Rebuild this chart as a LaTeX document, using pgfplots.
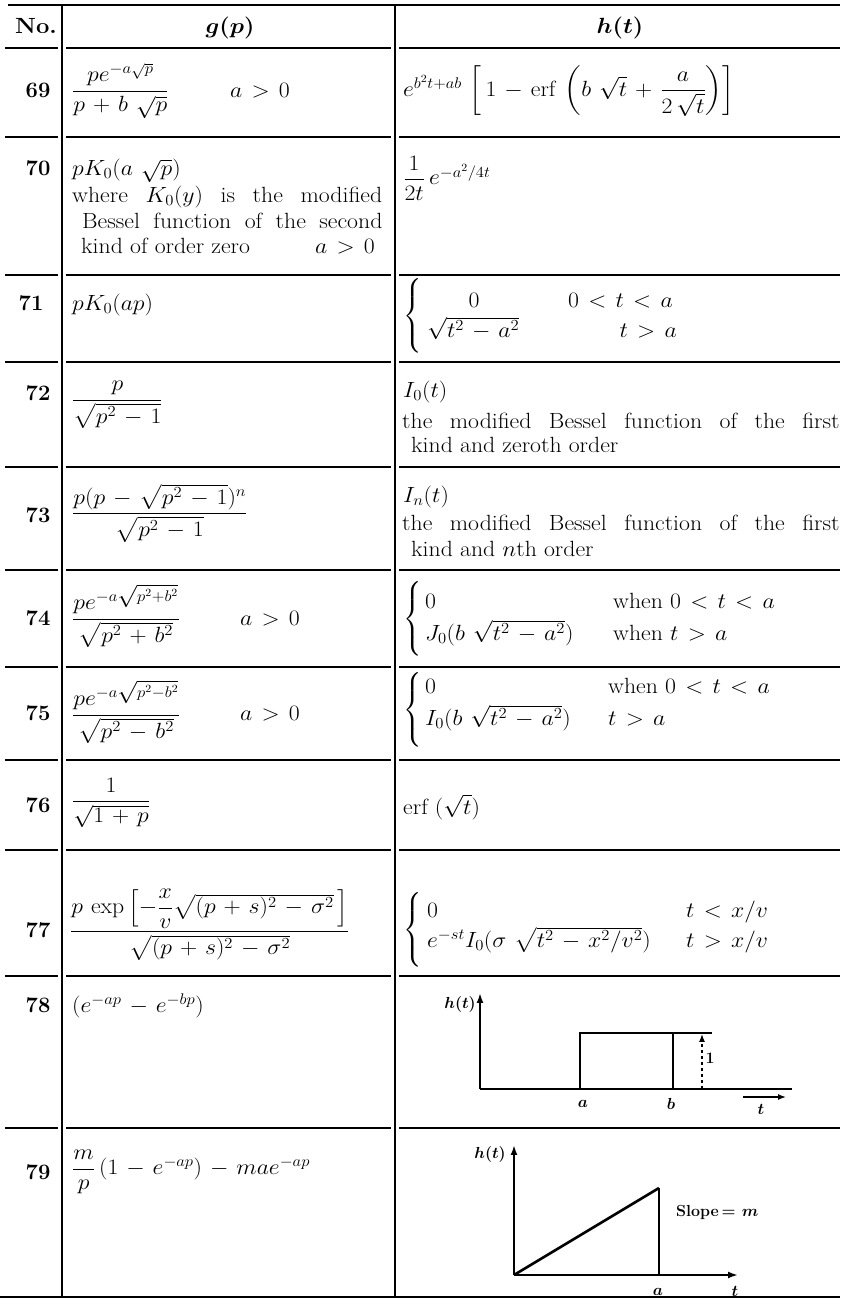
\RequirePackage{fix-cm}
\documentclass[border=0pt]{standalone}
\usepackage{amsmath,bm}
\usepackage{graphicx}
\usepackage{pgfplots}
\pgfplotsset{compat=1.18}
\usetikzlibrary{arrows.meta}
\newcommand{\W}[1]{\scalebox{1.08}[1]{#1}}
\newcommand{\Br}{$\left\{\vrule height 29pt depth 29pt width 0pt\right.$}
\medmuskip=6mu plus 2mu minus 3mu
\thickmuskip=7mu plus 3mu minus 2mu
\begin{document}
\begin{tikzpicture}
\useasboundingbox (0,0) rectangle (847pt,1299pt);
\tikzset{T/.style={inner sep=0pt, font=\fontsize{22}{26}\selectfont},
  L/.style={inner sep=0pt, font=\fontsize{16}{19}\selectfont}}
\begin{axis}[at={(0pt,0pt)}, anchor=south west, scale only axis,
  width=847pt, height=1299pt, xmin=0, xmax=847, ymin=0, ymax=1299,
  y dir=reverse, hide axis, clip=false]
% top rule
\addplot[black, line width=2.6pt] coordinates {(8,5) (840,5)};
% vertical rules
\addplot[black, line width=1.3pt] coordinates {(62,5) (62,1297)};
\addplot[black, line width=1.3pt] coordinates {(395,5) (395,1297)};
% horizontal rules
\pgfplotsinvokeforeach{48,137,275,362,467,570,667,760,850,976,1128}{
  \addplot[black, line width=1.6pt] coordinates {(5,#1) (58,#1)};
  \addplot[black, line width=1.6pt] coordinates {(66,#1) (391,#1)};
  \addplot[black, line width=1.6pt] coordinates {(399,#1) (840,#1)};
}
\addplot[black, line width=1.6pt] coordinates {(0,1297) (840,1297)};
% header
\node[T, anchor=base] at (axis cs:36,33) {\W{\bfseries No.}};
\node[T, anchor=base] at (axis cs:230,33) {\W{$\bm{g(p)}$}};
\node[T, anchor=base] at (axis cs:620,33) {\W{$\bm{h(t)}$}};
% row numbers
\node[T, anchor=base] at (axis cs:38,97) {\bfseries 69};
\node[T, anchor=base] at (axis cs:38,175) {\bfseries 70};
\node[T, anchor=base] at (axis cs:31,310) {\bfseries 71};
\node[T, anchor=base] at (axis cs:38,400) {\bfseries 72};
\node[T, anchor=base] at (axis cs:38,522) {\bfseries 73};
\node[T, anchor=base] at (axis cs:38,625) {\bfseries 74};
\node[T, anchor=base] at (axis cs:38,720) {\bfseries 75};
\node[T, anchor=base] at (axis cs:38,812) {\bfseries 76};
\node[T, anchor=base] at (axis cs:38,937) {\bfseries 77};
\node[T, anchor=base] at (axis cs:38,1012) {\bfseries 78};
\node[T, anchor=base] at (axis cs:38,1179) {\bfseries 79};
% row 69
\node[T, anchor=west] at (axis cs:72,91) {\W{$\dfrac{pe^{-a\sqrt{p}}}{p+b\:\sqrt{p}}$}};
\node[T, anchor=base west] at (axis cs:230,97) {\W{$a>0$}};
\node[T, anchor=west] at (axis cs:403,91) {\W{$e^{b^2t+ab}\,\left[\,1-\mathrm{erf}\,\left(b\:\sqrt{t}+\dfrac{a}{2\,\sqrt{t}}\right)\right]$}};
% row 70
\node[T, anchor=base west] at (axis cs:72,175) {\W{$pK_0(a\:\sqrt{p})$}};
\node[T, anchor=base west] at (axis cs:72,202) {\W{\makebox[287pt][s]{where $K_0(y)$ is the modified}}};
\node[T, anchor=base west] at (axis cs:82,228) {\W{\makebox[278pt][s]{Bessel function of the second}}};
\node[T, anchor=base west] at (axis cs:81,253) {\W{kind of order zero}};
\node[T, anchor=base west] at (axis cs:315,253) {\W{$a>0$}};
\node[T, anchor=west] at (axis cs:403,178) {\W{$\dfrac{1}{2t}\,e^{-a^2/4t}$}};
% row 71
\node[T, anchor=base west] at (axis cs:72,310) {\W{$pK_0(ap)$}};
\node[T] at (axis cs:413,316) {\Br};
\node[T, anchor=base] at (axis cs:474,307) {\W{$0$}};
\node[T, anchor=base west] at (axis cs:427,337) {\W{$\sqrt{t^2-a^2}$}};
\node[T, anchor=base east] at (axis cs:673,307) {\W{$0<t<a$}};
\node[T, anchor=base east] at (axis cs:677,337) {\W{$t>a$}};
% row 72
\node[T, anchor=west] at (axis cs:72,405) {\W{$\dfrac{p}{\sqrt{p^2-1}}$}};
\node[T, anchor=base west] at (axis cs:403,397) {\W{$I_0(t)$}};
\node[T, anchor=base west] at (axis cs:402,428) {\W{\makebox[405pt][s]{the modified Bessel function of the first}}};
\node[T, anchor=base west] at (axis cs:411,452) {\W{kind and zeroth order}};
% row 73
\node[T, anchor=west] at (axis cs:72,513) {\W{$\dfrac{p(p-\sqrt{p^2-1})^n}{\sqrt{p^2-1}}$}};
\node[T, anchor=base west] at (axis cs:403,502) {\W{$I_n(t)$}};
\node[T, anchor=base west] at (axis cs:402,530) {\W{\makebox[405pt][s]{the modified Bessel function of the first}}};
\node[T, anchor=base west] at (axis cs:411,556) {\W{kind and $n$th order}};
% row 74
\node[T, anchor=west] at (axis cs:72,616) {\W{$\dfrac{pe^{-a\sqrt{p^2+b^2}}}{\sqrt{p^2+b^2}}$}};
\node[T, anchor=base west] at (axis cs:240,625) {\W{$a>0$}};
\node[T] at (axis cs:413,619) {\Br};
\node[T, anchor=base west] at (axis cs:425,608) {\W{$0$}};
\node[T, anchor=base west] at (axis cs:425,640) {\W{$J_0(b\:\sqrt{t^2-a^2})$}};
\node[T, anchor=base west] at (axis cs:613,608) {\W{when $0<t<a$}};
\node[T, anchor=base west] at (axis cs:613,640) {\W{when $t>a$}};
% row 75
\node[T, anchor=west] at (axis cs:72,712) {\W{$\dfrac{pe^{-a\sqrt{p^2-b^2}}}{\sqrt{p^2-b^2}}$}};
\node[T, anchor=base west] at (axis cs:240,720) {\W{$a>0$}};
\node[T] at (axis cs:413,710) {\Br};
\node[T, anchor=base west] at (axis cs:425,693) {\W{$0$}};
\node[T, anchor=base west] at (axis cs:425,725) {\W{$I_0(b\:\sqrt{t^2-a^2})$}};
\node[T, anchor=base west] at (axis cs:608,693) {\W{when $0<t<a$}};
\node[T, anchor=base west] at (axis cs:608,725) {\W{$t>a$}};
% row 76
\node[T, anchor=west] at (axis cs:72,803) {\W{$\dfrac{1}{\sqrt{1+p}}$}};
\node[T, anchor=base west] at (axis cs:403,814) {\W{erf $(\sqrt{t})$}};
% row 77
\node[T, anchor=west] at (axis cs:70,925) {\W{$\dfrac{p\,\exp\left[-\dfrac{x}{v}\sqrt{(p+s)^2-\sigma^2}\,\right]}{\sqrt{(p+s)^2-\sigma^2}}$}};
\node[T] at (axis cs:413,930) {\Br};
\node[T, anchor=base west] at (axis cs:427,917) {\W{$0$}};
\node[T, anchor=base west] at (axis cs:427,947) {\W{$e^{-st}I_0(\sigma\:\sqrt{t^2-x^2/v^2})$}};
\node[T, anchor=base west] at (axis cs:686,917) {\W{$t<x/v$}};
\node[T, anchor=base west] at (axis cs:686,947) {\W{$t>x/v$}};
% row 78
\node[T, anchor=base west] at (axis cs:72,1012) {\W{$(e^{-ap}-e^{-bp})$}};
% row 79
\node[T, anchor=west] at (axis cs:72,1172) {\W{$\dfrac{m}{p}\,(1-e^{-ap})-mae^{-ap}$}};
\end{axis}
% chart for row 78
\begin{axis}[at={(480pt,210pt)}, anchor=south west, scale only axis,
  width=312pt, height=96pt, xmin=0, xmax=312, ymin=0, ymax=96,
  axis x line=bottom, axis y line=left,
  x axis line style={-, line width=2pt},
  y axis line style={-{Latex[length=10pt,width=7pt]}, line width=2pt},
  xtick=\empty, ytick=\empty, clip=false]
\addplot[black, line width=2.6pt] coordinates {(100,0) (100,56) (193,56) (193,0)};
\addplot[black, line width=2pt] coordinates {(193,56) (232,56)};
\addplot[black, dashed, line width=1.2pt, -{Latex[length=8pt,width=6pt]}] coordinates {(222,0) (222,55)};
\addplot[black, line width=1.4pt, -{Latex[length=8pt,width=6pt]}] coordinates {(263,-8) (306,-8)};
\node[L] at (axis cs:230,31) {$\bm{1}$};
\node[L] at (axis cs:103,-15) {$\bm{a}$};
\node[L] at (axis cs:191,-15) {$\bm{b}$};
\node[L] at (axis cs:281,-20) {$\bm{t}$};
\node[L] at (axis cs:-20,84) {$\bm{h(t)}$};
\end{axis}
% chart for row 79
\begin{axis}[at={(514pt,24pt)}, anchor=south west, scale only axis,
  width=224pt, height=130pt, xmin=0, xmax=224, ymin=0, ymax=130,
  axis x line=bottom, axis y line=left,
  x axis line style={-{Latex[length=10pt,width=7pt]}, line width=2pt},
  y axis line style={-{Latex[length=10pt,width=7pt]}, line width=2pt},
  xtick=\empty, ytick=\empty, clip=false]
\addplot[black, line width=2.6pt] coordinates {(0,0) (145,87)};
\addplot[black, line width=1.5pt] coordinates {(145,87) (145,0)};
\node[L, anchor=west] at (axis cs:162,63) {\textbf{Slope}\,$\bm{=m}$};
\node[L] at (axis cs:144,-17) {$\bm{a}$};
\node[L] at (axis cs:221,-16) {$\bm{t}$};
\node[L] at (axis cs:-24,120) {$\bm{h(t)}$};
\end{axis}
\end{tikzpicture}
\end{document}
